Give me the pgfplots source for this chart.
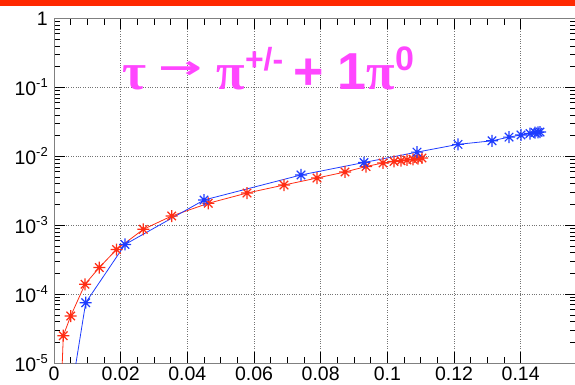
\documentclass[border=0pt]{standalone}
\usepackage{fontspec}
\usepackage{graphicx}
\setmainfont{Liberation Sans}
\newfontfamily\greekfont{Liberation Serif}
\newfontfamily\dejavu{DejaVu Sans}
\usepackage{pgfplots}
\pgfplotsset{compat=1.18}
\definecolor{rootred}{RGB}{255,40,0}
\definecolor{serred}{RGB}{255,45,20}
\definecolor{serblue}{RGB}{30,60,255}
\definecolor{titlemag}{RGB}{255,70,255}
\pgfdeclareplotmark{ast8}{%
  \pgfpathmoveto{\pgfqpoint{-\pgfplotmarksize}{0pt}}\pgfpathlineto{\pgfqpoint{\pgfplotmarksize}{0pt}}%
  \pgfpathmoveto{\pgfqpoint{0pt}{-\pgfplotmarksize}}\pgfpathlineto{\pgfqpoint{0pt}{\pgfplotmarksize}}%
  \pgfpathmoveto{\pgfqpoint{-0.707\pgfplotmarksize}{-0.707\pgfplotmarksize}}\pgfpathlineto{\pgfqpoint{0.707\pgfplotmarksize}{0.707\pgfplotmarksize}}%
  \pgfpathmoveto{\pgfqpoint{-0.707\pgfplotmarksize}{0.707\pgfplotmarksize}}\pgfpathlineto{\pgfqpoint{0.707\pgfplotmarksize}{-0.707\pgfplotmarksize}}%
  \pgfusepathqstroke}
\newcommand\tp[1]{10\raisebox{0.42em}{\fontsize{13}{13}\selectfont #1}}
\begin{document}
\begin{tikzpicture}
\useasboundingbox (0,0) rectangle (575pt,384pt);
\fill[rootred] (0,378pt) rectangle (575pt,384pt);
\begin{axis}[
  at={(54pt,21pt)}, anchor=south west,
  scale only axis, width=522pt, height=344.5pt,
  xmin=0, xmax=0.1566,
  ymode=log, ymin=1e-5, ymax=1,
  xtick={0,0.02,0.04,0.06,0.08,0.1,0.12,0.14},
  xticklabels={0,0.02,0.04,0.06,0.08,0.1,0.12,0.14},
  minor x tick num=3,
  ytick={1e-5,1e-4,1e-3,1e-2,1e-1,1},
  yticklabels={\tp{-5},\tp{-4},\tp{-3},\tp{-2},\tp{-1},1},
  minor ytick={2e-5,3e-5,4e-5,5e-5,6e-5,7e-5,8e-5,9e-5,2e-4,3e-4,4e-4,5e-4,6e-4,7e-4,8e-4,9e-4,2e-3,3e-3,4e-3,5e-3,6e-3,7e-3,8e-3,9e-3,2e-2,3e-2,4e-2,5e-2,6e-2,7e-2,8e-2,9e-2,0.2,0.3,0.4,0.5,0.6,0.7,0.8,0.9},
  tick align=inside,
  major tick length=11pt, minor tick length=6pt,
  every tick/.style={black, line width=0.6pt},
  axis line style={gray, line width=1pt},
  xmajorgrids, ymajorgrids,
  major grid style={dotted, black!55, line width=0.7pt},
  ticklabel style={font=\fontsize{19.5}{19.5}\selectfont},
  xticklabel style={inner sep=0pt, anchor=north, yshift=-4pt},
  yticklabel style={inner sep=0pt, anchor=east, xshift=-6pt},
  clip=true,
]
\addplot[color=serred, line width=0.8pt, mark=ast8, mark size=6pt, mark options={line width=1.2pt}] coordinates {
(0.0017,1e-6)
(0.00279,2.49e-5)
(0.00501,4.81e-5)
(0.0093,1.39e-4)
(0.01359,2.43e-4)
(0.01875,4.44e-4)
(0.02679,8.71e-4)
(0.03531,1.36e-3)
(0.04629,2.08e-3)
(0.0579,2.93e-3)
(0.069,3.83e-3)
(0.0789,4.84e-3)
(0.0873,5.92e-3)
(0.0936,7.11e-3)
(0.0987,8.0e-3)
(0.102,8.41e-3)
(0.1041,8.63e-3)
(0.1059,8.84e-3)
(0.1077,9.04e-3)
(0.1092,9.29e-3)
(0.1104,9.45e-3)
};
\addplot[color=serblue, line width=0.8pt, mark=ast8, mark size=6pt, mark options={line width=1.2pt}] coordinates {
(0.006,6.6e-6)
(0.00951,7.5e-5)
(0.0213,5.25e-4)
(0.045,2.32e-3)
(0.0741,5.36e-3)
(0.093,8.13e-3)
(0.1089,1.15e-2)
(0.1212,1.49e-2)
(0.1314,1.68e-2)
(0.1365,1.90e-2)
(0.1401,2.04e-2)
(0.1428,2.14e-2)
(0.1443,2.21e-2)
(0.1452,2.23e-2)
(0.1458,2.25e-2)
};
\node[anchor=base west, inner sep=0pt, text=titlemag, font=\fontsize{52}{52}\selectfont\bfseries] at (rel axis cs:0.131,0.795)
  {{\greekfont τ}\hspace{12pt}\raisebox{0.2em}{\resizebox{44pt}{17pt}{\dejavu\bfseries →}}\hspace{14pt}{\greekfont π}\raisebox{0.36em}{\fontsize{32}{32}\selectfont +/-}\hspace{10pt}+\hspace{14pt}1{\greekfont π}\raisebox{0.36em}{\fontsize{34}{34}\selectfont 0}};
\end{axis}
\end{tikzpicture}
\end{document}
